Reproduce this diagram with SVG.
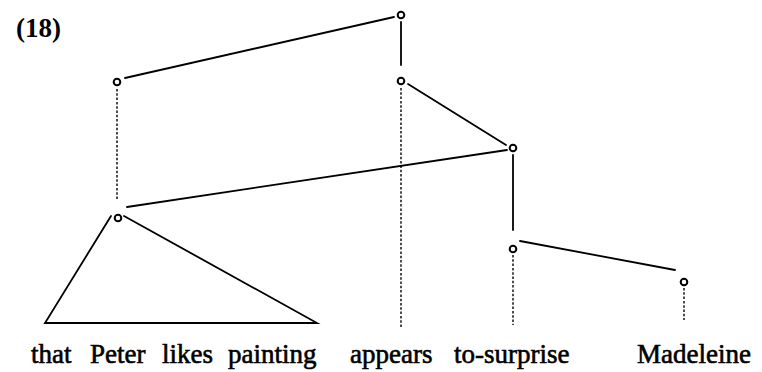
<svg xmlns="http://www.w3.org/2000/svg" width="762" height="372" viewBox="0 0 762 372">
<style>
.edge{stroke:#000;stroke-width:1.8;fill:none;stroke-linecap:round}
.dot{stroke:#000;stroke-width:1.4;fill:none;stroke-dasharray:2.5 1.8}
.node{fill:#fff;stroke:#000;stroke-width:2}
.lbl{font-family:"Liberation Serif","Times New Roman",serif;font-size:27px;fill:#000;stroke:#000;stroke-width:0.6}
.num{font-family:"Liberation Serif","Times New Roman",serif;font-size:27px;font-weight:bold;fill:#000}
</style>
<rect width="762" height="372" fill="#fff"/>
<text class="num" x="16" y="37">(18)</text>
<g id="connectors">
<line class="edge" x1="125" y1="78" x2="394" y2="17"/>
<line class="edge" x1="401" y1="22" x2="401" y2="65"/>
<line class="edge" x1="408" y1="84" x2="506" y2="145"/>
<line class="edge" x1="127" y1="207" x2="507" y2="150"/>
<line class="edge" x1="513" y1="155" x2="513" y2="230"/>
<line class="edge" x1="520" y1="241" x2="675" y2="270"/>
<polyline class="edge" points="111,216 45,323 317,323 124,216"/>
<line class="dot" x1="117" y1="89" x2="117" y2="200"/>
<line class="dot" x1="401" y1="88" x2="401" y2="328"/>
<line class="dot" x1="513" y1="255" x2="513" y2="325"/>
<line class="dot" x1="684" y1="288" x2="684" y2="320"/>
</g>
<g id="n-root"><circle class="node" cx="401" cy="15" r="3.3"/></g>
<g id="n-a"><circle class="node" cx="117" cy="82" r="3.3"/></g>
<g id="n-b"><circle class="node" cx="401" cy="81" r="3.3"/></g>
<g id="n-c"><circle class="node" cx="513" cy="148" r="3.3"/></g>
<g id="n-d"><circle class="node" cx="118" cy="218" r="3.3"/></g>
<g id="n-e"><circle class="node" cx="513" cy="249" r="3.3"/></g>
<g id="n-f"><circle class="node" cx="684" cy="282" r="3.3"/></g>
<g id="labels">
<text class="lbl" y="363"><tspan x="31">that</tspan><tspan x="90">Peter</tspan><tspan x="162">likes</tspan><tspan x="228">painting</tspan></text>
<text class="lbl" y="363"><tspan x="350">appears</tspan><tspan x="454">to-surprise</tspan></text>
<text class="lbl" x="637" y="363">Madeleine</text>
</g>
</svg>
